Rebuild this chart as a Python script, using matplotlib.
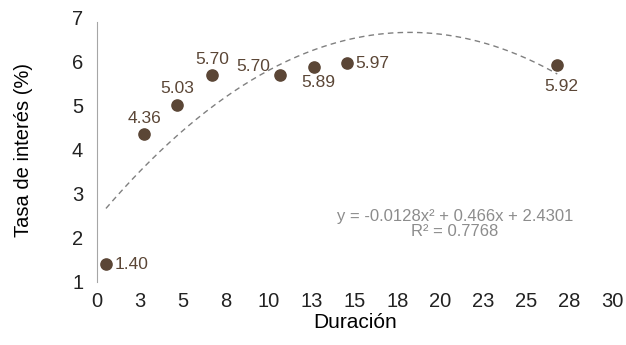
import numpy as np
import matplotlib.pyplot as plt

# data
duracion = [0.52, 2.74, 4.66, 6.70, 10.66, 12.64, 14.56, 26.8]
tasa = [1.40, 4.36, 5.03, 5.70, 5.70, 5.89, 5.97, 5.92]
label_pos = ['right', 'above', 'above', 'above', 'left', 'below', 'right', 'below']
trend_coef = [-0.0128, 0.466, 2.4301]
trend_text = "y = -0.0128x² + 0.466x + 2.4301\nR² = 0.7768"
xticks = [0, 2.5, 5, 7.5, 10, 12.5, 15, 17.5, 20, 22.5, 25, 27.5, 30]
xtick_labels = ['0', '3', '5', '8', '10', '13', '15', '18', '20', '23', '25', '28', '30']
yticks = [1, 2, 3, 4, 5, 6, 7]

plt.rcParams['font.family'] = ['Liberation Sans', 'DejaVu Sans']
brown = '#5b4636'

fig = plt.figure(figsize=(6.26, 3.45), dpi=100)
ax = fig.add_axes([0.155, 0.183, 0.823, 0.765])

# trendline over the data range
xs = np.linspace(min(duracion), max(duracion), 200)
ax.plot(xs, np.polyval(trend_coef, xs), linestyle=(0, (4, 3)), color='#808080', linewidth=1.0)

ax.scatter(duracion, tasa, s=65, color=brown, zorder=3)

offsets = {'right': (6, 0, 'left', 'center'),
           'left': (-7, 1, 'right', 'bottom'),
           'above': (0, 6, 'center', 'bottom'),
           'below': (3, -6, 'center', 'top')}
for i, (x, y, pos) in enumerate(zip(duracion, tasa, label_pos)):
    dx, dy, ha, va = offsets[pos]
    if i == len(duracion) - 1:
        dy -= 4
    ax.annotate(f"{y:.2f}", (x, y), xytext=(dx, dy), textcoords='offset points',
                ha=ha, va=va, fontsize=12.5, color=brown)

ax.text(20.85, 2.32, trend_text, ha='center', va='center', fontsize=12,
        color='#8c8c8c', linespacing=1.05)

ax.set_xlim(0, 30)
ax.set_ylim(1, 7)
ax.set_xticks(xticks)
ax.set_xticklabels(xtick_labels)
ax.set_yticks(yticks)
ax.tick_params(length=0, labelsize=14.5, colors='#222222')
ax.tick_params(axis='x', pad=7)
ax.tick_params(axis='y', pad=10)

for side in ['top', 'right', 'bottom']:
    ax.spines[side].set_visible(False)
ax.spines['left'].set_color('#a6a6a6')
ax.spines['left'].set_bounds(1, 6.9)

ax.set_xlabel('Duración', fontsize=15, labelpad=2)
ax.set_ylabel('Tasa de interés (%)', fontsize=14.5, labelpad=28)

fig.savefig('out.png', dpi=100)
